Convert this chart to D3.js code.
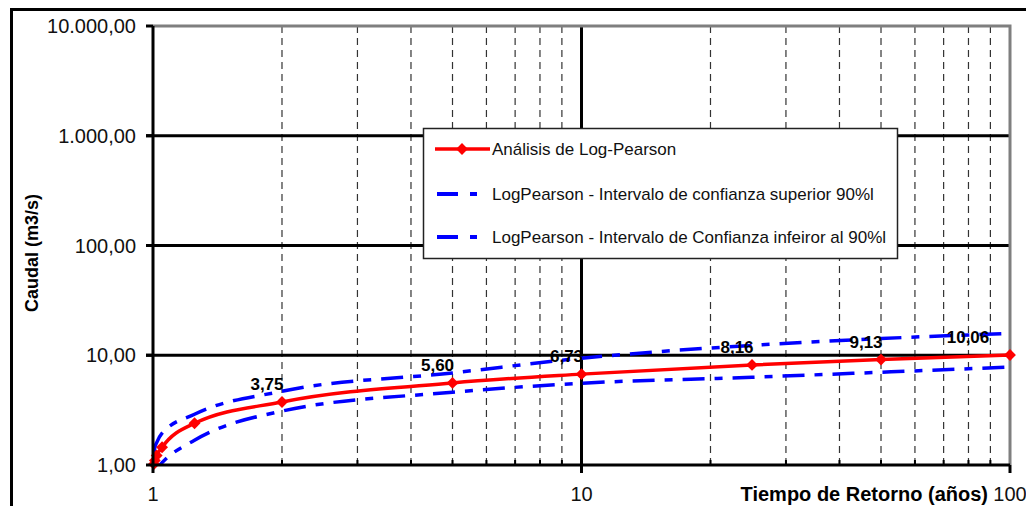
<!DOCTYPE html>
<html>
<head>
<meta charset="utf-8">
<title>Log-Pearson</title>
<script src="https://cdnjs.cloudflare.com/ajax/libs/d3/7.8.5/d3.min.js"></script>
<style>
  body { margin: 0; background: #fff; }
  svg { display: block; font-family: Arial, "Liberation Sans", sans-serif; }
</style>
</head>
<body>
<svg id="chart" width="1026" height="506"></svg>
<script>
// return periods (years) and discharges (m3/s)
var returnPeriods = [1.005, 1.01, 1.02, 1.05, 1.25, 2, 5, 10, 25, 50, 100];
var logPearson    = [1.02, 1.1, 1.22, 1.45, 2.4, 3.75, 5.60, 6.73, 8.16, 9.13, 10.06];
var upper90       = [1.3, 1.45, 1.6, 1.95, 2.9, 4.7, 6.9, 9.4, 12.3, 14.2, 15.8];
var lower90       = [0.8, 0.85, 0.92, 1.05, 1.68, 3.1, 4.6, 5.56, 6.3, 7.0, 7.8];
var labelPeriods  = [2, 5, 10, 25, 50, 100];
var yTicks = [1, 10, 100, 1000, 10000];
var xTicks = [1, 10, 100];
var xMinor = [2, 3, 4, 5, 6, 7, 8, 9, 20, 30, 40, 50, 60, 70, 80, 90];
var seriesNames = [
  "Análisis de Log-Pearson",
  "LogPearson - Intervalo de confianza superior 90%l",
  "LogPearson - Intervalo de Confianza infeiror al 90%l"
];

var svg = d3.select("#chart");
var pL = 153, pR = 1010, pT = 26, pB = 465;

var x = d3.scaleLog().domain([1, 100]).range([pL, pR]);
var y = d3.scaleLog().domain([1, 10000]).range([pB, pT]);

var es = d3.formatLocale({decimal: ",", thousands: ".", grouping: [3], currency: ["", ""]});
var fmt = es.format(",.2f");

// outer chart border
svg.append("rect")
  .attr("x", 11.5).attr("y", 9.5).attr("width", 1100).attr("height", 600)
  .attr("fill", "none").attr("stroke", "#000").attr("stroke-width", 3);

svg.append("clipPath").attr("id", "plot")
  .append("rect").attr("x", pL).attr("y", pT).attr("width", pR - pL).attr("height", pB - pT);

// minor vertical grid (dashed)
svg.append("g").selectAll("line").data(xMinor).join("line")
  .attr("x1", d => x(d)).attr("x2", d => x(d))
  .attr("y1", pT).attr("y2", pB)
  .attr("stroke", "#333").attr("stroke-width", 1.2)
  .attr("stroke-dasharray", "7,5");

// major grid
svg.append("g").selectAll("line").data([10]).join("line")
  .attr("x1", d => x(d)).attr("x2", d => x(d))
  .attr("y1", pT).attr("y2", pB + 8)
  .attr("stroke", "#000").attr("stroke-width", 3);
svg.append("g").selectAll("line").data([10, 100, 1000]).join("line")
  .attr("x1", pL - 7).attr("x2", pR)
  .attr("y1", d => y(d)).attr("y2", d => y(d))
  .attr("stroke", "#000").attr("stroke-width", 3);

// top / right plot border in grey
svg.append("path")
  .attr("d", "M" + pL + "," + pT + "H" + pR + "V" + pB)
  .attr("fill", "none").attr("stroke", "#7f7f7f").attr("stroke-width", 3);

// series
var pts = function (vals) { return returnPeriods.map((t, i) => [x(t), y(vals[i])]); };
var line = d3.line().curve(d3.curveMonotoneX);
var series = svg.append("g").attr("clip-path", "url(#plot)");

series.append("path").attr("d", line(pts(upper90)))
  .attr("fill", "none").attr("stroke", "#0000ff").attr("stroke-width", 3.5)
  .attr("stroke-dasharray", "22,10,8,10");
series.append("path").attr("d", line(pts(lower90)))
  .attr("fill", "none").attr("stroke", "#0000ff").attr("stroke-width", 3.5)
  .attr("stroke-dasharray", "22,10,8,10");
series.append("path").attr("d", line(pts(logPearson)))
  .attr("fill", "none").attr("stroke", "#ff0000").attr("stroke-width", 3.5);

var diamond = d3.symbol(d3.symbolSquare, 70);
svg.append("g").selectAll("path").data(returnPeriods).join("path")
  .attr("d", diamond)
  .attr("transform", (d, i) => "translate(" + x(d) + "," + y(logPearson[i]) + ") rotate(45)")
  .attr("fill", "#ff0000");

// data labels
svg.append("g").selectAll("text").data(labelPeriods).join("text")
  .attr("x", d => Math.min(x(d) - 15, pR - 42))
  .attr("y", d => y(logPearson[returnPeriods.indexOf(d)]) - 12)
  .attr("text-anchor", "middle")
  .style("font-size", "17px").style("font-weight", "bold")
  .text(d => logPearson[returnPeriods.indexOf(d)].toFixed(2).replace(".", ","));

// axes lines
svg.append("line").attr("x1", pL).attr("x2", pL).attr("y1", pT).attr("y2", pB + 1.5)
  .attr("stroke", "#000").attr("stroke-width", 3);
svg.append("line").attr("x1", pL - 1.5).attr("x2", pR).attr("y1", pB).attr("y2", pB)
  .attr("stroke", "#000").attr("stroke-width", 3);

// y ticks
svg.append("g").selectAll("line").data(yTicks).join("line")
  .attr("x1", pL - 7).attr("x2", pL).attr("y1", d => y(d)).attr("y2", d => y(d))
  .attr("stroke", "#000").attr("stroke-width", 3);
svg.append("g").selectAll("text").data(yTicks).join("text")
  .attr("x", 136).attr("y", d => y(d)).attr("dy", "0.36em")
  .attr("text-anchor", "end").style("font-size", "20px").attr("fill", "#111")
  .text(d => fmt(d));

// x ticks
svg.append("g").selectAll("line").data(xTicks).join("line")
  .attr("x1", d => x(d)).attr("x2", d => x(d)).attr("y1", pB).attr("y2", pB + 8)
  .attr("stroke", "#000").attr("stroke-width", 3);
svg.append("g").selectAll("line").data(xMinor).join("line")
  .attr("x1", d => x(d)).attr("x2", d => x(d)).attr("y1", pB - 5).attr("y2", pB)
  .attr("stroke", "#000").attr("stroke-width", 2);
svg.append("g").selectAll("text").data(xTicks).join("text")
  .attr("x", d => x(d)).attr("y", 501)
  .attr("text-anchor", "middle").style("font-size", "20px").attr("fill", "#111")
  .text(d => d);

// axis titles
svg.append("text")
  .attr("transform", "translate(38,253) rotate(-90)")
  .attr("text-anchor", "middle").style("font-size", "18px").style("font-weight", "bold")
  .text("Caudal (m3/s)");
svg.append("text")
  .attr("x", 988).attr("y", 501).attr("text-anchor", "end")
  .style("font-size", "20px").style("font-weight", "bold")
  .text("Tiempo de Retorno (años)");

// legend
var lg = svg.append("g");
lg.append("rect").attr("x", 423.5).attr("y", 128.5).attr("width", 474).attr("height", 130)
  .attr("fill", "#fff").attr("stroke", "#222").attr("stroke-width", 1.5);
var rowsY = [149, 194, 237];
lg.append("line").attr("x1", 435).attr("x2", 490).attr("y1", rowsY[0]).attr("y2", rowsY[0])
  .attr("stroke", "#ff0000").attr("stroke-width", 3.5);
lg.append("path").attr("d", diamond)
  .attr("transform", "translate(462," + rowsY[0] + ") rotate(45)").attr("fill", "#ff0000");
[1, 2].forEach(function (i) {
  lg.append("line").attr("x1", 437).attr("x2", 477).attr("y1", rowsY[i]).attr("y2", rowsY[i])
    .attr("stroke", "#0000ff").attr("stroke-width", 4).attr("stroke-dasharray", "21,12,7");
});
lg.selectAll("text.lbl").data(seriesNames).join("text")
  .attr("class", "lbl")
  .attr("x", 492).attr("y", (d, i) => rowsY[i]).attr("dy", "0.36em")
  .style("font-size", "17px").attr("fill", "#111")
  .text(d => d);
</script>
</body>
</html>
